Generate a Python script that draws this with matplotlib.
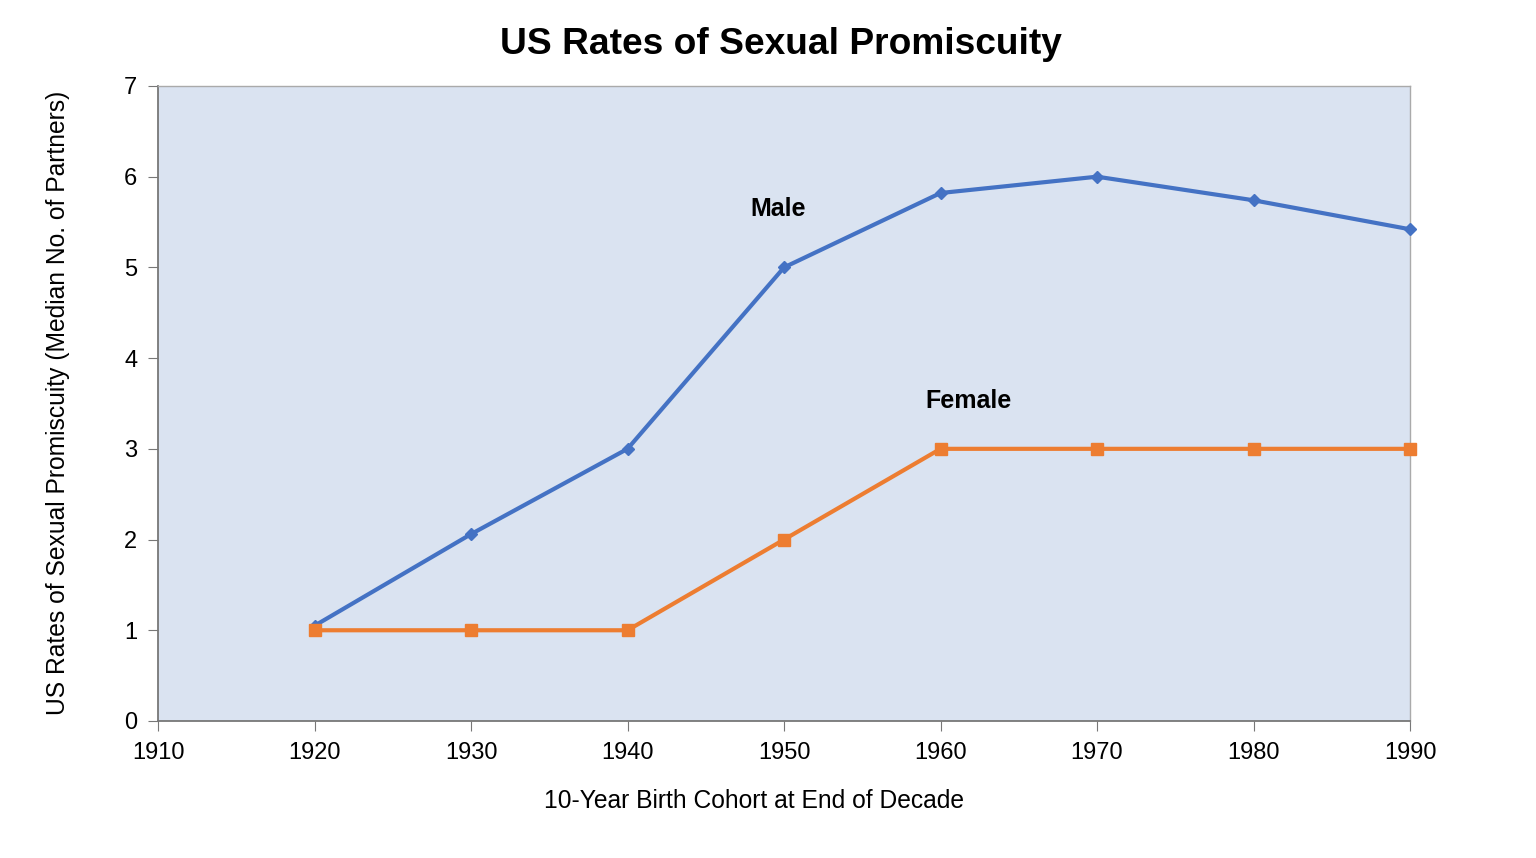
import matplotlib
matplotlib.use("Agg")
import matplotlib.pyplot as plt

plt.rcParams['font.family'] = ['Liberation Sans', 'DejaVu Sans']

# cohort years
anos = [1920, 1930, 1940, 1950, 1960, 1970, 1980, 1990]

# median number of partners
male = [1.05, 2.06, 3.0, 5.0, 5.82, 6.0, 5.74, 5.42]
female = [1, 1, 1, 2, 3, 3, 3, 3]

fig = plt.figure(figsize=(15.36, 8.58), dpi=100)
ax = fig.add_axes([0.1029, 0.1597, 0.8151, 0.7401])
ax.set_facecolor('#dae3f1')

ax.plot(anos, male, color='#4472c4', linewidth=3, marker='D', markersize=6, clip_on=False, zorder=3)
ax.plot(anos, female, color='#ed7d31', linewidth=3, marker='s', markersize=9, clip_on=False, zorder=3)

ax.text(1949.6, 5.64, 'Male', fontsize=18, fontweight='bold', ha='center', va='center')
ax.text(1961.8, 3.53, 'Female', fontsize=18, fontweight='bold', ha='center', va='center')

ax.set_xlim(1910, 1990)
ax.set_ylim(0, 7)
ax.set_xticks(range(1910, 1991, 10))
ax.set_yticks(range(0, 8))
ax.tick_params(labelsize=17, length=7, color='#777777', pad=8)

for s in ['left', 'bottom']:
    ax.spines[s].set_color('#777777')
    ax.spines[s].set_linewidth(1.3)
for s in ['top', 'right']:
    ax.spines[s].set_color('#aaaaaa')
    ax.spines[s].set_linewidth(1.0)

fig.text(0.5085, 0.948, 'US Rates of Sexual Promiscuity', fontsize=26.7, fontweight='bold', ha='center', va='center')
fig.text(0.491, 0.0664, '10-Year Birth Cohort at End of Decade', fontsize=17.7, ha='center', va='center')
fig.text(0.0378, 0.530, 'US Rates of Sexual Promiscuity (Median No. of Partners)', fontsize=17.7,
         rotation=90, ha='center', va='center')

fig.savefig('out.png', dpi=100)
